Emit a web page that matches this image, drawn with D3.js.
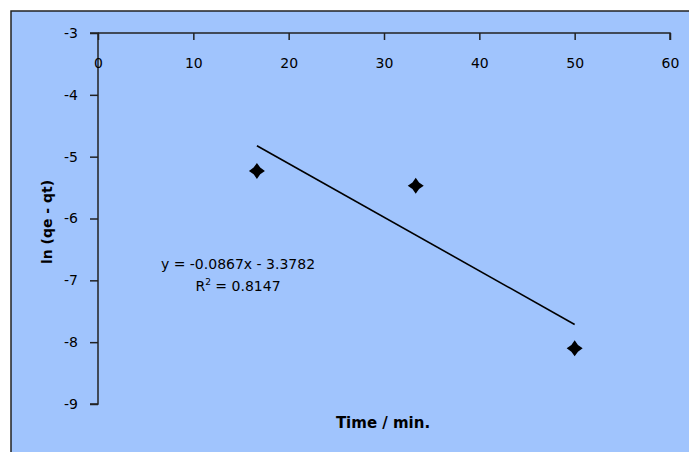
<!DOCTYPE html>
<html><head><meta charset="utf-8">
<script src="https://cdn.jsdelivr.net/npm/d3@7"></script>
<style>body{margin:0;background:#fff}svg{display:block}text{font-family:"DejaVu Sans",Verdana,sans-serif}</style>
</head><body><svg id="c" width="689" height="452"></svg>
<script>
const timeMin = [16.67, 33.33, 50];
const lnQ = [-5.23, -5.47, -8.10];
const xTicks = [0,10,20,30,40,50,60];
const yTicks = [-3,-4,-5,-6,-7,-8,-9];
const slope = -0.0867, intercept = -3.3782;
const eqText = "y = -0.0867x - 3.3782";
const r2Text = "0.8147";
const FONT = "'DejaVu Sans',Verdana,sans-serif";

const svg = d3.select("#c");
svg.append("rect").attr("x",11).attr("y",11).attr("width",700).attr("height",460)
  .attr("fill","#a0c4fd").attr("stroke","#222").attr("stroke-width",1.5);

const x = d3.scaleLinear().domain([0,60]).range([98,670]);
const y = d3.scaleLinear().domain([-3,-9]).range([33,404]);

const ya = svg.append("g").attr("transform","translate(98,0)")
  .call(d3.axisLeft(y).tickValues(yTicks).tickSize(8).tickPadding(12).tickFormat(d=>String(d)));
const xa = svg.append("g").attr("transform","translate(0,33)")
  .call(d3.axisBottom(x).tickValues(xTicks).tickSize(7).tickPadding(18).tickFormat(d=>String(d)));
[ya,xa].forEach(g=>{
  g.attr("font-size",null).attr("font-family",null);
  g.selectAll("path,line").attr("stroke","#222").attr("stroke-width",1.5);
  g.selectAll("text").attr("fill","#000").style("font-size","14px").style("font-family",FONT);
});
ya.select(".domain").attr("d","M-8,33H0V404H-8");
xa.select(".domain").attr("d","M98,0H670V7");

const tx = [d3.min(timeMin), d3.max(timeMin)];
svg.append("line").attr("x1",x(tx[0])).attr("y1",y(slope*tx[0]+intercept))
  .attr("x2",x(tx[1])).attr("y2",y(slope*tx[1]+intercept))
  .attr("stroke","#000").attr("stroke-width",1.6);

const r = 8, ri = 3.3;
const star = d3.line()([[0,-r],[ri,-ri],[r,0],[ri,ri],[0,r],[-ri,ri],[-r,0],[-ri,-ri]]) + "Z";
svg.selectAll(".pt").data(timeMin).enter().append("path")
  .attr("d",star).attr("fill","#000")
  .attr("transform",(d,i)=>`translate(${x(d)},${y(lnQ[i])})`);

const eq = svg.append("g").style("font-size","14px").style("font-family",FONT);
eq.append("text").attr("x",238).attr("y",269).attr("text-anchor","middle").text(eqText);
const r2 = eq.append("text").attr("x",238).attr("y",291).attr("text-anchor","middle");
r2.append("tspan").text("R");
r2.append("tspan").attr("dy",-6).style("font-size","9px").text("2");
r2.append("tspan").attr("dy",6).text(" = " + r2Text);

svg.append("text").attr("x",383).attr("y",428).attr("text-anchor","middle")
  .style("font-weight","bold").style("font-size","15px").style("font-family",FONT).text("Time / min.");
svg.append("text").attr("transform","translate(52,222) rotate(-90)").attr("text-anchor","middle")
  .style("font-weight","bold").style("font-size","14px").style("font-family",FONT).text("ln (qe - qt)");
</script></body></html>
